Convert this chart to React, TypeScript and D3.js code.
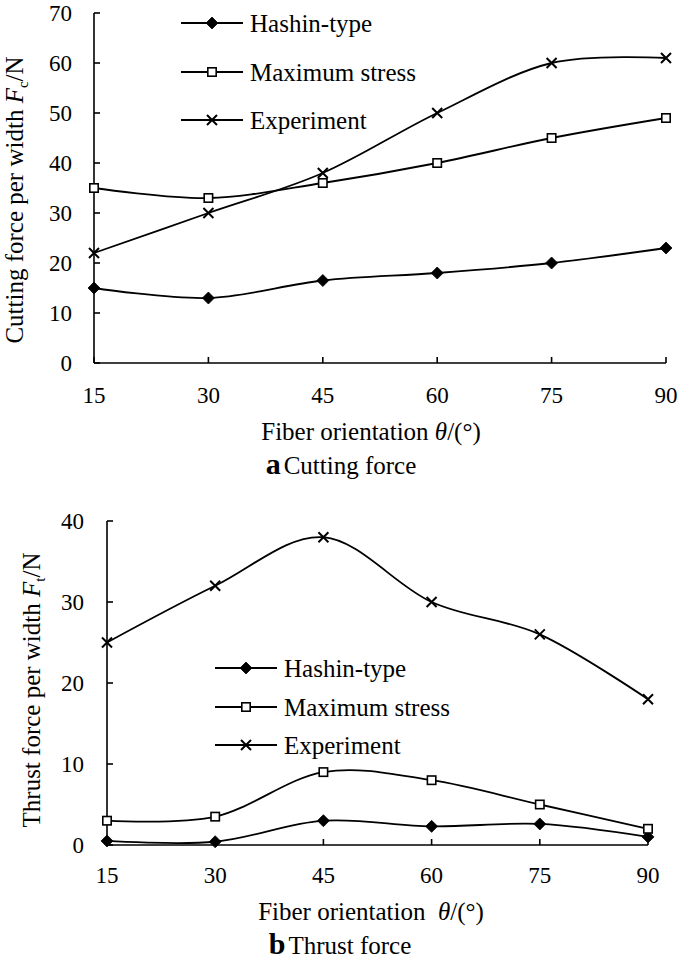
import React from "react";
import * as d3 from "d3";

const angles = [15, 30, 45, 60, 75, 90];
const seriesNames = ["Hashin-type", "Maximum stress", "Experiment"];
const markerKinds = ["diamond", "square", "cross"];

const cutHashin = [15, 13, 16.5, 18, 20, 23];
const cutMaxStress = [35, 33, 36, 40, 45, 49];
const cutExperiment = [22, 30, 38, 50, 60, 61];

const thrHashin = [0.5, 0.4, 3, 2.3, 2.6, 1];
const thrMaxStress = [3, 3.5, 9, 8, 5, 2];
const thrExperiment = [25, 32, 38, 30, 26, 18];

const cutTicksY = [0, 10, 20, 30, 40, 50, 60, 70];
const thrTicksY = [0, 10, 20, 30, 40];

const FONT = "Liberation Serif, DejaVu Serif, serif";

function Marker({ kind, x, y }: { kind: string; x: number; y: number }) {
  if (kind === "diamond") {
    const r = 6;
    return (
      <path
        d={`M${x},${y - r}L${x + r},${y}L${x},${y + r}L${x - r},${y}Z`}
        fill="#000"
        stroke="#000"
        strokeWidth={0.8}
      />
    );
  }
  if (kind === "square") {
    const r = 4.2;
    return (
      <rect x={x - r} y={y - r} width={2 * r} height={2 * r} fill="#fff" stroke="#000" strokeWidth={1.6} />
    );
  }
  const r = 5;
  return (
    <path
      d={`M${x - r},${y - r}L${x + r},${y + r}M${x - r},${y + r}L${x + r},${y - r}`}
      stroke="#000"
      strokeWidth={2}
      fill="none"
    />
  );
}

type PanelProps = {
  x0: number;
  x1: number;
  yTop: number;
  yBot: number;
  yMax: number;
  yTicks: number[];
  series: number[][];
  yTitle: string;
  yTitleSub: string;
  yTitleX: number;
  yTitleY: number;
  yLabelRight: number;
  xTitleY: number;
  xTitleX: number;
  xTitleGap: string;
  captionLetter: string;
  captionText: string;
  captionY: number;
  captionX: number;
  legendX: number;
  legendY: number[];
  tickLabelY: number;
};

function Panel(p: PanelProps) {
  const x = d3.scaleLinear().domain([15, 90]).range([p.x0, p.x1]);
  const y = d3.scaleLinear().domain([0, p.yMax]).range([p.yBot, p.yTop]);
  const line = d3
    .line<number>()
    .x((_, i) => x(angles[i]))
    .y((d) => y(d))
    .curve(d3.curveCardinal.tension(0));
  return (
    <g fontFamily={FONT}>
      <line x1={p.x0} x2={p.x0} y1={p.yTop} y2={p.yBot} stroke="#000" strokeWidth={1.6} />
      <line x1={p.x0} x2={p.x1} y1={p.yBot} y2={p.yBot} stroke="#000" strokeWidth={1.6} />
      {p.yTicks.map((t) => (
        <g key={"y" + t}>
          <line x1={p.x0} x2={p.x0 + 6} y1={y(t)} y2={y(t)} stroke="#000" strokeWidth={1.6} />
          <text x={p.yLabelRight} y={y(t)} dy="0.35em" textAnchor="end" fontSize={23}>
            {t}
          </text>
        </g>
      ))}
      {angles.map((a) => (
        <g key={"x" + a}>
          <line x1={x(a)} x2={x(a)} y1={p.yBot} y2={p.yBot - 6} stroke="#000" strokeWidth={1.6} />
          <text x={x(a)} y={p.tickLabelY} dy="0.35em" textAnchor="middle" fontSize={23}>
            {a}
          </text>
        </g>
      ))}
      {p.series.map((vals, si) => (
        <g key={"s" + si}>
          <path d={line(vals) || ""} fill="none" stroke="#000" strokeWidth={1.8} />
          {vals.map((v, i) => (
            <Marker key={i} kind={markerKinds[si]} x={x(angles[i])} y={y(v)} />
          ))}
        </g>
      ))}
      {seriesNames.map((n, si) => (
        <g key={"l" + si}>
          <line x1={p.legendX} x2={p.legendX + 62} y1={p.legendY[si]} y2={p.legendY[si]} stroke="#000" strokeWidth={1.8} />
          <Marker kind={markerKinds[si]} x={p.legendX + 31} y={p.legendY[si]} />
          <text x={p.legendX + 69} y={p.legendY[si]} dy="0.35em" fontSize={25}>
            {n}
          </text>
        </g>
      ))}
      <text
        transform={`translate(${p.yTitleX},${p.yTitleY}) rotate(-90)`}
        textAnchor="middle"
        dy="0.35em"
        fontSize={25}
      >
        {p.yTitle}
        <tspan fontStyle="italic">F</tspan>
        <tspan fontSize={15} dy="5">{p.yTitleSub}</tspan>
        <tspan dy="-5">/N</tspan>
      </text>
      <text x={p.xTitleX} y={p.xTitleY} dy="0.35em" textAnchor="middle" fontSize={25} style={{ whiteSpace: "pre" }}>
        {"Fiber orientation" + p.xTitleGap}
        <tspan fontStyle="italic">θ</tspan>
        /(°)
      </text>
      <text x={p.captionX} y={p.captionY} dy="0.35em" textAnchor="middle" fontSize={25}>
        <tspan fontWeight="bold" fontSize={30}>{p.captionLetter}</tspan>
        <tspan dx="3">{p.captionText}</tspan>
      </text>
    </g>
  );
}

export default function App() {
  return (
    <svg width={685} height={960} style={{ position: "absolute", left: 0, top: 0, background: "#fff" }}>
      <rect width={685} height={960} fill="#fff" />
      <Panel
        x0={94}
        x1={666}
        yTop={13}
        yBot={363}
        yMax={70}
        yTicks={cutTicksY}
        series={[cutHashin, cutMaxStress, cutExperiment]}
        yTitle="Cutting force per width "
        yTitleSub="c"
        yTitleX={14}
        yTitleY={200}
        yLabelRight={72}
        xTitleY={431}
        xTitleX={371}
        xTitleGap=" "
        captionLetter="a"
        captionText="Cutting force"
        captionY={465}
        captionX={341}
        legendX={181}
        legendY={[23, 72, 120]}
        tickLabelY={395}
      />
      <Panel
        x0={107}
        x1={648}
        yTop={521}
        yBot={845}
        yMax={40}
        yTicks={thrTicksY}
        series={[thrHashin, thrMaxStress, thrExperiment]}
        yTitle="Thrust force per width "
        yTitleSub="t"
        yTitleX={31}
        yTitleY={690}
        yLabelRight={84}
        xTitleY={911}
        xTitleX={371}
        xTitleGap="  "
        captionLetter="b"
        captionText="Thrust force"
        captionY={945}
        captionX={340}
        legendX={215}
        legendY={[668, 707, 745]}
        tickLabelY={875}
      />
    </svg>
  );
}
